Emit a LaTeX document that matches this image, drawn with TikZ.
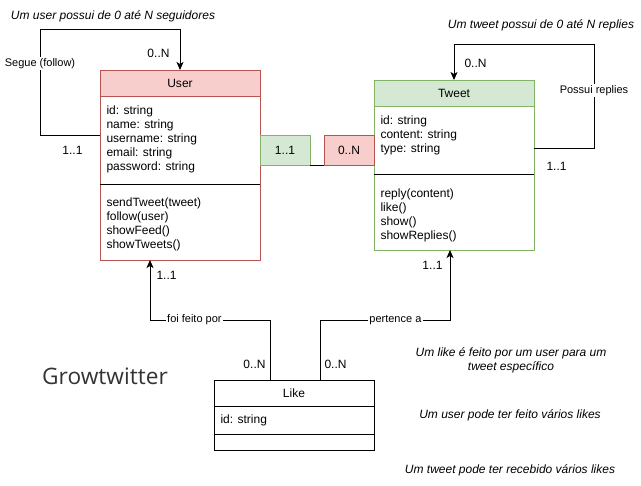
\documentclass[tikz,border=0pt]{standalone}
\usepackage{fontspec}
\setmainfont{Liberation Sans}
\newfontfamily\titlefont{Open Sans}
\usepackage{tikz}
\usetikzlibrary{
    arrows.meta,
    positioning,
    calc
}
\definecolor{userfill}{HTML}{F8CECC}
\definecolor{userline}{HTML}{B85450}
\definecolor{tweetfill}{HTML}{D5E8D4}
\definecolor{tweetline}{HTML}{82B366}

\begin{document}
\begin{tikzpicture}[
            x=0.75pt, y=-0.75pt,
            line width=0.75pt,
            classbox/.style={draw, outer sep=0pt, inner sep=0pt, minimum width=120pt, font=\fontsize{9}{10.5}\selectfont},
            members/.style={align=left, inner sep=0pt, font=\fontsize{9}{10.5}\selectfont},
            mult/.style={draw, outer sep=0pt, minimum width=37.5pt, minimum height=22.5pt, font=\fontsize{9}{10.5}\selectfont},
            lbl/.style={inner sep=0pt, font=\fontsize{9}{10.5}\selectfont},
            edgelbl/.style={fill=white, inner sep=1pt, font=\fontsize{8.25}{10}\selectfont},
            note/.style={align=center, inner sep=0pt, font=\fontsize{9}{10.5}\selectfont\itshape},
            arr/.style={-{Stealth[length=6pt, width=5.25pt, inset=1.5pt]}, line width=0.75pt},
        ]
            \useasboundingbox (0,0) rectangle (641,485);

            % ====== User class ======
            \node[classbox, fill=userfill, draw=userline, minimum height=19.5pt] (user) at (180,83) {User};
            \node[classbox, draw=userline, minimum height=66pt, below=0pt of user] (userattr) {};
            \node[classbox, draw=userline, minimum height=57pt, below=0pt of userattr] (usermeth) {};
            \draw (userattr.south west) -- (userattr.south east);
            \node[members, below right=6.75pt and 4.5pt of userattr.north west]
                (userattrtxt)
                {id: string\\name: string\\username: string\\email: string\\password: string};
            \node[members, below right=9.75pt and 4.5pt of usermeth.north west]
                (usermethtxt)
                {sendTweet(tweet)\\follow(user)\\showFeed()\\showTweets()};

            % ====== Tweet class ======
            \node[classbox, fill=tweetfill, draw=tweetline, minimum height=19.5pt] (tweet) at (454,93) {Tweet};
            \node[classbox, draw=tweetline, minimum height=51pt, below=0pt of tweet] (tweetattr) {};
            \node[classbox, draw=tweetline, minimum height=57pt, below=0pt of tweetattr] (tweetmeth) {};
            \draw (tweetattr.south west) -- (tweetattr.south east);
            \node[members, below right=6.75pt and 4.5pt of tweetattr.north west]
                (tweetattrtxt)
                {id: string\\content: string\\type: string};
            \node[members, below right=10.5pt and 4.5pt of tweetmeth.north west]
                (tweetmethtxt)
                {reply(content)\\like()\\show()\\showReplies()};

            % ====== Like class ======
            \node[classbox, minimum height=19.5pt] (like) at (294,393) {Like};
            \node[classbox, minimum height=21pt, below=0pt of like] (likeattr) {};
            \node[classbox, minimum height=12pt, below=0pt of likeattr] (likemeth) {};
            \node[members, below right=6pt and 4.5pt of likeattr.north west]
                (likeattrtxt)
                {id: string};

            % ====== User -- Tweet ======
            \node[mult, fill=tweetfill, draw=tweetline] (usermult) at (285,150) {1..1};
            \node[mult, fill=userfill, draw=userline, right=10.5pt of usermult] (tweetmult) {0..N};
            \draw (usermult.south east) -- (tweetmult.south west);

            % ====== Self loops ======
            \coordinate (userloop) at ([yshift=3.75pt]userattr.west);
            \draw[arr]
                (userloop) -- ++(-60,0)
                |- node[edgelbl, pos=0.34] {Segue (follow)} ([yshift=30pt]user.north)
                -- (user.north);
            \node[lbl, above left=9pt and 7.5pt of user.north] (userloopN) {0..N};
            \node[lbl, below left=8.25pt and 12.75pt of userloop] (userloop1) {1..1};

            \coordinate (tweetloop) at ([yshift=-6pt]tweetattr.east);
            \draw[arr]
                (tweetloop) -- ++(60,0)
                |- node[edgelbl, pos=0.28] {Possui replies} ([yshift=26.25pt]tweet.north)
                -- (tweet.north);
            \node[lbl, above right=9pt and 7.5pt of tweet.north] (tweetloopN) {0..N};
            \node[lbl, below right=10.5pt and 9pt of tweetloop] (tweetloop1) {1..1};

            % ====== Like -- User / Tweet ======
            \coordinate (likeuser) at ([xshift=-18pt]like.north);
            \coordinate (userin) at ([xshift=-22.5pt]usermeth.south);
            \draw[arr]
                (likeuser) -- ++(0,-60)
                -| node[edgelbl, pos=0.315] {foi feito por} (userin);
            \node[lbl, below right=8.25pt and 4.5pt of userin] (userin1) {1..1};
            \node[lbl, above left=8.25pt and 3pt of likeuser] (likeuserN) {0..N};

            \coordinate (liketweet) at ([xshift=19.5pt]like.north);
            \coordinate (tweetin) at ([xshift=-3pt]tweetmeth.south);
            \draw[arr]
                (liketweet) -- ++(0,-60)
                -| node[edgelbl, pos=0.29] {pertence a} (tweetin);
            \node[lbl, below left=8.25pt and 5.25pt of tweetin] (tweetin1) {1..1};
            \node[lbl, above right=8.25pt and 3pt of liketweet] (liketweetN) {0..N};

            % ====== Notes ======
            \node[note] (follownote) at (113,16) {Um user possui de 0 até N seguidores};
            \node[note] (replynote) at (541,25) {Um tweet possui de 0 até N replies};
            \node[note] (likenote) at (511,360) {Um like é feito por um user para um\\tweet específico};
            \node[note] (userlikes) at (510,415) {Um user pode ter feito vários likes};
            \node[note] (tweetlikes) at (510,470) {Um tweet pode ter recebido vários likes};

            \node[font=\titlefont\fontsize{17}{20}\selectfont, text=black!80, inner sep=0pt] (title) at (105,376) {Growtwitter};
        \end{tikzpicture}
\end{document}
